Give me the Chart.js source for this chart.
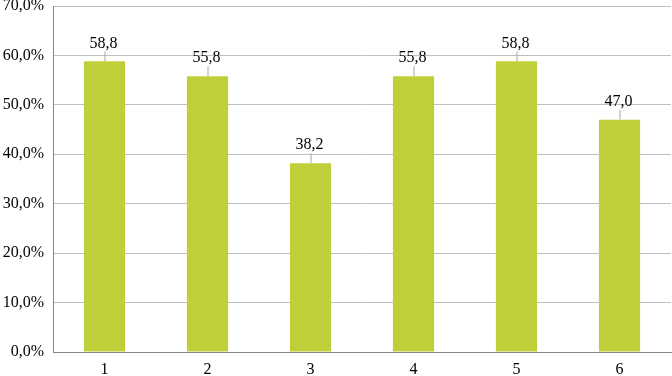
<!DOCTYPE html>
<html><head><meta charset="utf-8">
<script src="https://cdn.jsdelivr.net/npm/chart.js@4/dist/chart.umd.min.js"></script>
<style>html,body{margin:0;padding:0;background:#fff}#wrap{width:672px;height:376px}</style>
</head><body><div id="wrap"><canvas id="c" width="672" height="376"></canvas></div>
<script>
const categories = ['1','2','3','4','5','6'];
const values = [58.8, 55.8, 38.2, 55.8, 58.8, 47.0];
const yTicks = [0,10,20,30,40,50,60,70];

const fmt = v => v.toFixed(1).replace('.', ',');
const FONT = '"Liberation Serif", "Times New Roman", serif';

const labelPlugin = {
  id: 'labels',
  afterDatasetsDraw(chart) {
    const ctx = chart.ctx;
    const meta = chart.getDatasetMeta(0);
    ctx.save();
    ctx.font = '16px ' + FONT;
    ctx.textAlign = 'center';
    ctx.textBaseline = 'middle';
    meta.data.forEach((bar, i) => {
      const x = bar.x, y = bar.y;
      const ly = y - 18;
      ctx.strokeStyle = '#A6A6A6';
      ctx.lineWidth = 1;
      ctx.beginPath();
      ctx.moveTo(x + 0.5, ly + 8);
      ctx.lineTo(x + 0.5, y);
      ctx.stroke();
      ctx.fillStyle = '#000';
      ctx.fillText(fmt(values[i]), x - 1, ly);
    });
    ctx.restore();
  }
};

new Chart(document.getElementById('c'), {
  type: 'bar',
  data: {
    labels: categories,
    datasets: [{
      data: values,
      backgroundColor: '#BFCF3A',
      borderWidth: 0,
      categoryPercentage: 1,
      barPercentage: 0.4
    }]
  },
  options: {
    responsive: false,
    animation: false,
    devicePixelRatio: 1,
    layout: { padding: { top: 6, right: 1, left: 0, bottom: 0 } },
    plugins: { legend: { display: false }, tooltip: { enabled: false } },
    scales: {
      x: {
        grid: { display: false, drawTicks: false },
        border: { color: '#868686', width: 1 },
        ticks: { color: '#000', font: { family: FONT, size: 16 }, padding: 8 },
        afterFit(s) { s.height = 24; s.paddingLeft = 0; s.paddingRight = 0; }
      },
      y: {
        min: 0, max: 70,
        afterBuildTicks(s) { s.ticks = yTicks.map(v => ({ value: v })); },
        grid: { color: '#BFBFBF', drawTicks: false },
        border: { color: '#868686', width: 1 },
        ticks: { color: '#000', font: { family: FONT, size: 16 }, padding: 9,
                 callback: v => fmt(v) + '%' },
        afterFit(s) { s.width = 53; s.paddingTop = 0; s.paddingBottom = 0; }
      }
    }
  },
  plugins: [labelPlugin]
});
</script></body></html>
